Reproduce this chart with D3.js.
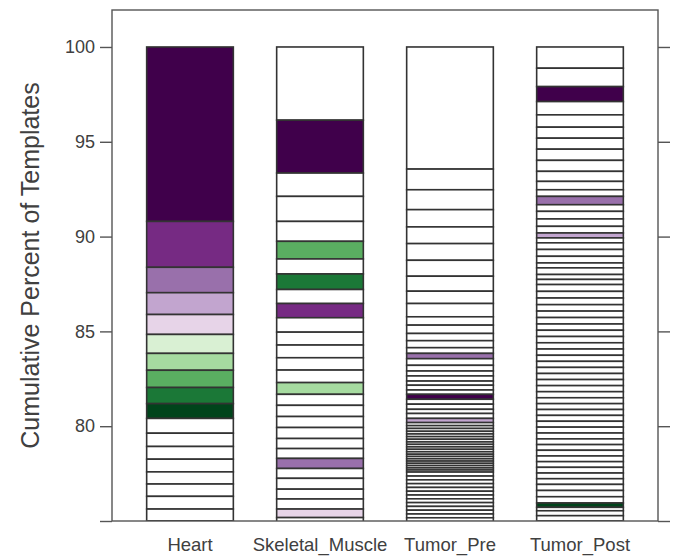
<!DOCTYPE html>
<meta charset="utf-8">
<style>
body { margin: 0; background: #fff; }
text { font-family: "Liberation Sans", Arial, sans-serif; fill: #404040; }
.frame { fill: none; stroke: #555; stroke-width: 1.4px; }
.tickmark { stroke: #555; stroke-width: 1.4px; }
.seg { stroke: #333; stroke-width: 1.6px; }
</style>
<body>
<script src="https://cdn.jsdelivr.net/npm/d3@7"></script>
<script>

var width = 679,
    height = 556;

var categories = ["Heart", "Skeletal_Muscle", "Tumor_Pre", "Tumor_Post"];

// 0 = template not among the heart's top ten (white), 1..10 = heart clone rank
var cloneColors = ["#ffffff", "#40004b", "#762a83", "#9970ab", "#c2a5cf", "#e7d4e8",
                   "#d9f0d3", "#a6dba0", "#5aae61", "#1b7837", "#00441b"];

// percent of templates per clone, largest (top of bar) first
var heartSizes = [9.20, 2.42, 1.34, 1.15, 1.05, 1.00, 0.89, 0.91, 0.85, 0.78,
                  0.78, 0.70, 0.67, 0.67, 0.64, 0.65, 0.67, 0.62, 0.60];
var heartClones = [1, 2, 3, 4, 5, 6, 7, 8, 9, 10, 0, 0, 0, 0, 0, 0, 0, 0, 0];

var muscleSizes = [3.86, 2.79, 1.23, 1.32, 1.05, 0.93, 0.79, 0.82, 0.74, 0.75,
                   0.76, 0.68, 0.67, 0.65, 0.66, 0.62, 0.58, 0.59, 0.58, 0.58,
                   0.53, 0.52, 0.53, 0.52, 0.57, 0.52, 0.53, 0.45, 0.48];
var muscleClones = [0, 1, 0, 0, 0, 8, 0, 9, 0, 2,
                    0, 0, 0, 0, 0, 7, 0, 0, 0, 0,
                    0, 0, 3, 0, 0, 0, 0, 5, 0];

var tumorPreSizes = [6.44, 1.09, 1.05, 0.91, 0.88, 0.88, 0.84, 0.79, 0.65, 0.70,
                     0.44, 0.44, 0.38, 0.37, 0.30, 0.28, 0.35, 0.30, 0.26, 0.27,
                     0.22, 0.25, 0.23, 0.26, 0.26, 0.27, 0.22, 0.26, 0.22,
                     0.16, 0.15, 0.15, 0.14, 0.14, 0.14, 0.14, 0.13, 0.13, 0.13,
                     0.13, 0.13, 0.12, 0.12, 0.12, 0.12, 0.12, 0.12, 0.11, 0.11,
                     0.21, 0.20, 0.20, 0.20, 0.20, 0.20, 0.20, 0.20, 0.20, 0.20,
                     0.20, 0.20, 0.20];
var tumorPreClones = [0, 0, 0, 0, 0, 0, 0, 0, 0, 0,
                      0, 0, 0, 0, 0, 3, 0, 0, 0, 0,
                      0, 0, 0, 1, 0, 0, 0, 0, 4,
                      0, 0, 0, 0, 0, 0, 0, 0, 0, 0,
                      0, 0, 0, 0, 0, 0, 0, 0, 0, 0,
                      0, 0, 0, 0, 0, 0, 0, 0, 0, 0,
                      0, 0, 0];

var tumorPostSizes = [1.12, 0.97, 0.79, 0.70, 0.65, 0.58, 0.58, 0.59, 0.58, 0.53,
                      0.44, 0.35, 0.44, 0.35, 0.40, 0.39, 0.35, 0.26, 0.26, 0.35,
                      0.36, 0.35, 0.26, 0.35, 0.26, 0.27,
                      0.36, 0.35, 0.35, 0.34, 0.34, 0.34, 0.33, 0.33, 0.33, 0.33,
                      0.33, 0.32, 0.32, 0.32, 0.32, 0.32, 0.32, 0.32, 0.31, 0.31,
                      0.31, 0.31, 0.31, 0.31, 0.31, 0.30, 0.30, 0.30, 0.30, 0.30,
                      0.30, 0.30, 0.30, 0.32, 0.33, 0.33,
                      0.23, 0.18, 0.26, 0.28, 0.30];
var tumorPostClones = [0, 0, 1, 0, 0, 0, 0, 0, 0, 0,
                       0, 0, 3, 0, 0, 0, 0, 4, 0, 0,
                       0, 0, 0, 0, 0, 0,
                       0, 0, 0, 0, 0, 0, 0, 0, 0, 0,
                       0, 0, 0, 0, 0, 0, 0, 0, 0, 0,
                       0, 0, 0, 0, 0, 0, 0, 0, 0, 0,
                       0, 0, 0, 0, 0, 0,
                       10, 0, 0, 0, 0];

var yTicks = [75, 80, 85, 90, 95, 100];
var yTickLabels = ["", "80", "85", "90", "95", "100"];

var sizes = [heartSizes, muscleSizes, tumorPreSizes, tumorPostSizes],
    clones = [heartClones, muscleClones, tumorPreClones, tumorPostClones];

var plotL = 112, plotR = 658, plotT = 10, plotB = 521;

var x = d3.scaleBand()
    .domain(categories)
    .range([plotL, plotR])
    .paddingInner(1 / 3)
    .paddingOuter(0.2667);

var y = d3.scaleLinear()
    .domain([75, 101.95])
    .range([plotB, plotT]);

var svg = d3.select("body").append("svg")
    .attr("width", width)
    .attr("height", height);

svg.append("clipPath")
    .attr("id", "plot")
  .append("rect")
    .attr("x", plotL)
    .attr("y", plotT)
    .attr("width", plotR - plotL)
    .attr("height", plotB - plotT);

// stack each bar downward from 100
var segs = [];
categories.forEach(function(c, i) {
  var hi = 100;
  sizes[i].forEach(function(s, j) {
    segs.push({cat: c, hi: hi, lo: hi - s, clone: clones[i][j]});
    hi -= s;
  });
});

svg.append("g")
    .attr("clip-path", "url(#plot)")
  .selectAll("rect")
    .data(segs)
  .enter().append("rect")
    .attr("class", "seg")
    .attr("x", function(d) { return x(d.cat); })
    .attr("width", x.bandwidth())
    .attr("y", function(d) { return y(d.hi); })
    .attr("height", function(d) { return y(d.lo) - y(d.hi); })
    .attr("fill", function(d) { return cloneColors[d.clone]; });

svg.append("rect")
    .attr("class", "frame")
    .attr("x", plotL)
    .attr("y", plotT)
    .attr("width", plotR - plotL)
    .attr("height", plotB - plotT);

// ticks on both sides, labels on the left only
var yAxisL = d3.axisLeft(y).tickValues(yTicks).tickSize(12).tickPadding(5)
    .tickFormat(function(d, i) { return yTickLabels[i]; });
var yAxisR = d3.axisRight(y).tickValues(yTicks).tickSize(12).tickFormat("");

var gl = svg.append("g").attr("transform", "translate(" + plotL + ",0)").call(yAxisL);
var gr = svg.append("g").attr("transform", "translate(" + plotR + ",0)").call(yAxisR);
[gl, gr].forEach(function(g) {
  g.attr("font-family", null).attr("font-size", null);
  g.select(".domain").remove();
  g.selectAll(".tick line").attr("class", "tickmark").attr("stroke", null);
});
gl.selectAll(".tick text")
    .attr("fill", null)
    .style("font-size", "18px");

var xAxis = d3.axisBottom(x).tickSize(0).tickPadding(17);
var gx = svg.append("g").attr("transform", "translate(0," + plotB + ")").call(xAxis);
gx.attr("font-family", null).attr("font-size", null);
gx.select(".domain").remove();
gx.selectAll(".tick text")
    .attr("fill", null)
    .style("font-size", "18.5px");

svg.append("text")
    .attr("transform", "translate(30," + ((plotT + plotB) / 2) + ") rotate(-90)")
    .attr("text-anchor", "middle")
    .attr("dy", "0.35em")
    .style("font-size", "25px")
    .text("Cumulative Percent of Templates");

</script>
